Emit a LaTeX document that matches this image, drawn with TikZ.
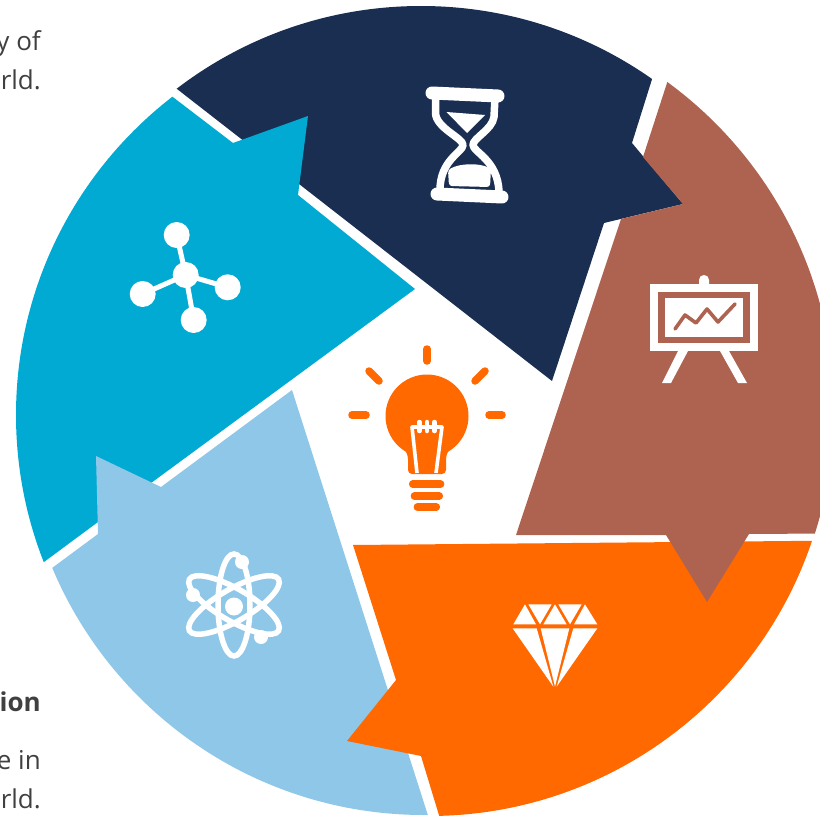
\documentclass[tikz,border=0pt]{standalone}
\usepackage{fontspec}
\setmainfont{Open Sans}
\definecolor{navyc}{HTML}{1A2E52}
\definecolor{brownc}{HTML}{AD6350}
\definecolor{orangec}{HTML}{FF6900}
\definecolor{skyc}{HTML}{8FC7E8}
\definecolor{cyanc}{HTML}{00AAD2}
\definecolor{textc}{HTML}{404040}
\tikzset{
  lbl/.style={anchor=base east,inner sep=0pt,text=textc,font=\fontsize{26}{26}\selectfont},
  whiteline/.style={draw=white,line cap=round,line join=round},
  ray/.style={draw=orangec,line width=7.5pt,line cap=round},
  bond/.style={draw=white,line width=5pt},
  orbit/.style={draw=white,line width=5.5pt},
}
\begin{document}
\begin{tikzpicture}[x=1pt,y=-1pt]
\useasboundingbox (0,0) rectangle (820,816);
% navy
\begin{scope}
\clip (421,408) circle[radius=402pt];
\fill[navyc] (100,29) -- (100,-50) -- (680,-50) -- (680,-10) -- (632,143) -- (683,204) -- (604,223) -- (552,381) -- cycle;
\end{scope}
% cyan
\begin{scope}
\clip (418,415) circle[radius=402pt];
\fill[cyanc] (110,49) -- (233,143) -- (308,116) -- (298,195) -- (415,289) -- (98,522) -- (-10,602) -- (-50,602) -- (-50,49) -- cycle;
\end{scope}
% light blue
\begin{scope}
\clip (424,412) circle[radius=403pt];
\fill[skyc] (-10,614) -- (98,534) -- (96,456) -- (161,487) -- (292,390) -- (440,853) -- (-10,853) -- cycle;
\end{scope}
% orange
\begin{scope}
\clip (429,412) circle[radius=404pt];
\fill[orangec] (353,545) -- (900,540) -- (900,860) -- (452,858) -- (421,756) -- (347,741) -- (396,680) -- cycle;
\end{scope}
% brown
\begin{scope}
\clip (428,410) circle[radius=406pt];
\fill[brownc] (690,12) -- (900,12) -- (900,533) -- (749,534) -- (707,602) -- (666,535) -- (516,535) -- (621,219) -- (683,204) -- (643,157) -- cycle;
\end{scope}
% hourglass
\draw[whiteline,line width=13pt] (432,93) -- (498,96);
\draw[whiteline,line width=13pt] (437,194) -- (502,197);
\draw[whiteline,line width=7.5pt] (435.5,96) -- (435.5,113) .. controls (436,128) and (463,138) .. (463,145) .. controls (463,152) and (440,160) .. (440,190);
\draw[whiteline,line width=7.5pt] (495,98) -- (494,117) .. controls (492,130) and (473,138) .. (473,145) .. controls (473,152) and (498,160) .. (499,192);
\fill[white] (446.5,112) -- (485,115) -- (467,133) -- cycle;
\fill[white,rounded corners=3pt] (448,170) .. controls (460,163) and (480,163) .. (491,169) -- (490,187) -- (449,186) -- cycle;
% easel
\fill[white,rounded corners=4.9pt] (699,290) -- (699,275) -- (709,275) -- (709,290) -- cycle;
\fill[white] (650,284) rectangle (758,351);
\fill[brownc] (658,292) rectangle (750,343);
\fill[white] (665,298) rectangle (743,337);
\draw[brownc,line width=3.6pt,line cap=round,line join=round] (675,329) -- (685,315) -- (696,323) -- (707,309) -- (718,322) -- (735,304);
\fill[white] (678,351) -- (688,351) -- (671,383) -- (662,383) -- cycle;
\fill[white] (720,351) -- (729,351) -- (747,383) -- (738,383) -- cycle;
% bulb
\draw[ray] (427,349) -- (427,361);
\draw[ray] (369,371) -- (379,381);
\draw[ray] (485,371) -- (475,381);
\draw[ray] (352,415) -- (366,415);
\draw[ray] (489,415) -- (502,415);
\fill[orangec] (427,416) circle[radius=41.5pt];
\fill[orangec,rounded corners=4pt] (402,445) -- (408,455) -- (408,474) -- (446,474) -- (446,455) -- (452,445) -- cycle;
\draw[white,line width=3.6pt,line join=round] (417,473) -- (412,427) -- (442,427) -- (436,473);
\draw[white,line width=4.5pt,line cap=round] (419.5,422) -- (419.5,431);
\draw[white,line width=4.5pt,line cap=round] (427,422) -- (427,431);
\draw[white,line width=4.5pt,line cap=round] (434.5,422) -- (434.5,431);
\draw[ray] (412.7,484) -- (440.6,484);
\draw[ray] (414.4,496) -- (439.3,496);
\draw[ray] (417.4,507) -- (436.3,507);
% molecule
\coordinate (mc) at (185.7,275);
\coordinate (mt) at (176.7,235);
\coordinate (mr) at (227.7,287.3);
\coordinate (ml) at (142.7,294);
\coordinate (mb) at (193.7,320);
\draw[bond] (mc) -- (mt);
\draw[bond] (mc) -- (mr);
\draw[bond] (mc) -- (ml);
\draw[bond] (mc) -- (mb);
\foreach \p in {mc,mt,mr,ml,mb} \fill[white] (\p) circle[radius=13pt];
% atom
\draw[orbit] (234,605) ellipse[x radius=16pt,y radius=51pt];
\draw[orbit] (234,605) ellipse[x radius=51.5pt,y radius=16pt,rotate=30];
\draw[orbit] (234,605) ellipse[x radius=51.5pt,y radius=16pt,rotate=-30];
\fill[white] (234,606.5) circle[radius=9pt];
\fill[white] (242,562) circle[radius=7pt];
\fill[white] (193,595) circle[radius=7pt];
\fill[white] (261,637) circle[radius=7pt];
% diamond
\begin{scope}[shift={(500,590)},x=0.3333pt,y=-0.3333pt]
\fill[white] (75,43) -- (40,103) -- (108,103) -- cycle;
\fill[white] (85,43) -- (155,43) -- (120,103) -- cycle;
\fill[white] (165,43) -- (130,103) -- (200,103) -- cycle;
\fill[white] (175,43) -- (245,43) -- (210,103) -- cycle;
\fill[white] (255,43) -- (222,103) -- (292,103) -- cycle;
\fill[white] (38,115) -- (110,115) -- (160,290) -- cycle;
\fill[white] (122,115) -- (208,115) -- (165,290) -- cycle;
\fill[white] (220,115) -- (292,115) -- (170,290) -- cycle;
\end{scope}
% text
\node[lbl] (t1) at (41,51) {y of};
\node[lbl] (t2) at (41,90) {rld.};
\node[lbl,font=\fontsize{26}{26}\selectfont\bfseries] (t3) at (41,711) {ion};
\node[lbl] (t4) at (41,769) {e in};
\node[lbl] (t5) at (41,808) {rld.};
\end{tikzpicture}
\end{document}
